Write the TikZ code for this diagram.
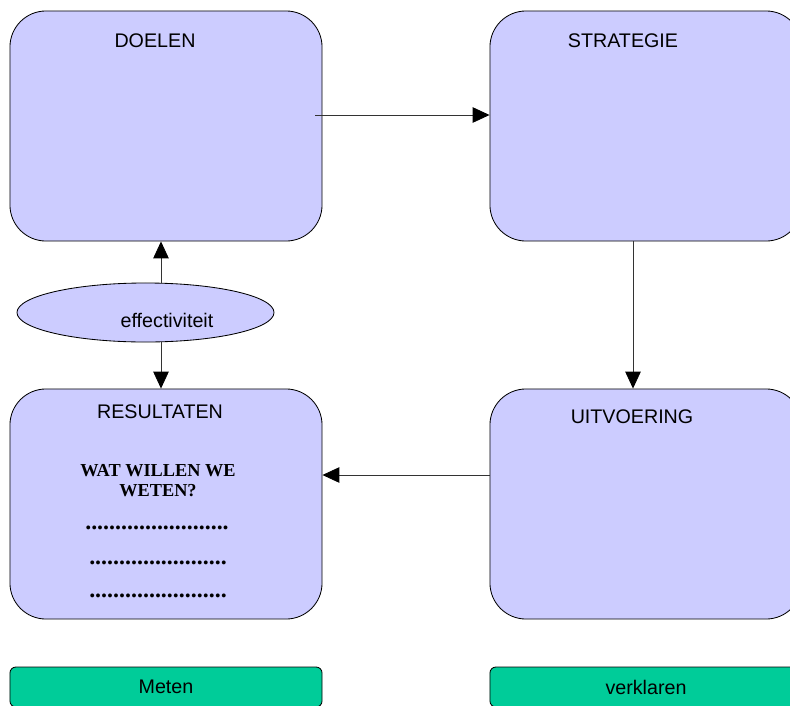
\documentclass[tikz,border=0pt]{standalone}
\usepackage{fontspec}
\setmainfont{Liberation Serif}
\setsansfont{Liberation Sans}
\usepackage{tikz}
\usetikzlibrary{shapes, arrows.meta}

\definecolor{lilac}{HTML}{CCCCFF}
\definecolor{mint}{HTML}{00CC99}

\begin{document}
\begin{tikzpicture}[x=0.025cm, y=-0.025cm,
    block/.style={draw, line width=0.6pt, fill=lilac, rounded corners=0.9cm,
      minimum width=7.8cm, minimum height=5.75cm, inner sep=0pt},
    tab/.style={draw, line width=0.6pt, fill=mint, rounded corners=0.15cm,
      minimum width=7.8cm, minimum height=1cm, inner sep=0pt,
      font=\sffamily\fontsize{14}{16}\selectfont},
    heading/.style={font=\sffamily\fontsize{14}{16}\selectfont},
    question/.style={align=center, font=\bfseries\fontsize{13}{14.2}\selectfont},
    dotrow/.style={font=\bfseries\fontsize{17}{18}\selectfont},
    link/.style={line width=0.6pt, black!80, -{Triangle[length=12pt, width=11pt, black]}}]
    %\draw[help lines, step=50] (0, 0) grid (790, 705);

    \useasboundingbox (0, 0) rectangle (790, 705);
    \clip (0, 0) rectangle (790, 705);

    \node[block] (doelen) at (166, 126) {};
    \node[block] (strategie) at (646, 126) {};
    \node[block] (resultaten) at (166, 504) {};
    \node[block] (uitvoering) at (646, 504) {};

    \node[heading] (doelentxt) at (155, 41) {DOELEN};
    \node[heading] (strategietxt) at (623, 41) {STRATEGIE};
    \node[heading] (resultatentxt) at (160, 412) {RESULTATEN};
    \node[heading] (uitvoeringtxt) at (632, 417) {UITVOERING};

    \node[question] (vraag) at (158, 481) {WAT WILLEN WE\\WETEN?};
    \node[dotrow] (punt1) at (157, 528) {........................};
    \node[dotrow] (punt2) at (158, 563) {.......................};
    \node[dotrow] (punt3) at (158, 596) {.......................};

    \node[ellipse, draw, line width=0.6pt, fill=lilac, minimum width=6.425cm,
      minimum height=1.475cm, inner sep=0pt] (eff) at (145.5, 312.5) {};
    \node[heading] (efftxt) at (167, 320) {effectiviteit};

    \node[tab] (meten) at (166, 687) {Meten};
    \node[tab] (verklaren) at (646, 687) {verklaren};

    \coordinate (dstart) at (315, 115);
    \coordinate (scol) at (633, 0);
    \coordinate (urow) at (0, 475);
    \coordinate (ecol) at (161, 0);

    \draw[link] (dstart) -- (dstart -| strategie.west);
    \draw[link] (scol |- strategie.south) -- (scol |- uitvoering.north);
    \draw[link] (urow -| uitvoering.west) -- (urow -| resultaten.east);
    \draw[link] (ecol |- eff.north) -- (ecol |- doelen.south);
    \draw[link] (ecol |- eff.south) -- (ecol |- resultaten.north);

\end{tikzpicture}
\end{document}
